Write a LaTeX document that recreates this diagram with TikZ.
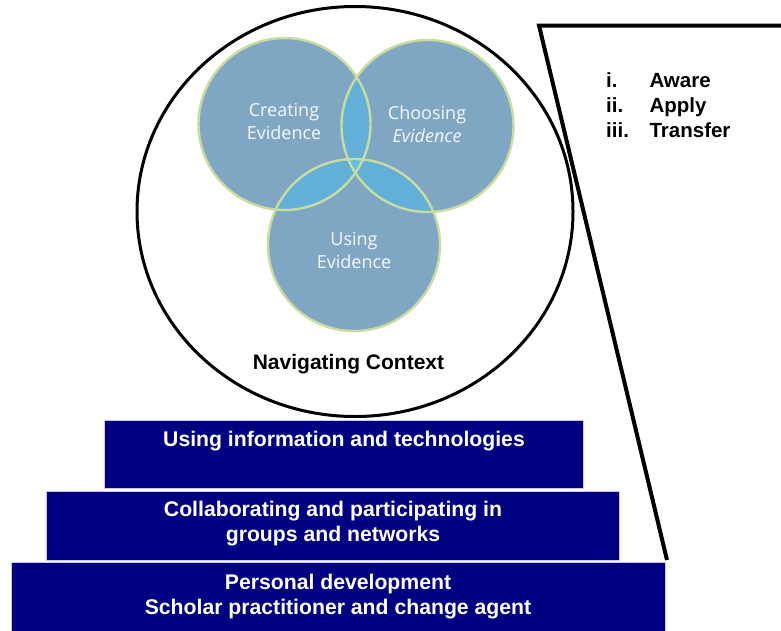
\documentclass[tikz,border=0pt]{standalone}
\usepackage{fontspec}
\setmainfont{Liberation Sans}
\newfontfamily\evidencefont{Open Sans}
\usetikzlibrary{calc}
\newcommand{\figunit}{1pt}
\definecolor{venn}{HTML}{7FA7C4}
\definecolor{vennmix}{HTML}{62B0D7}
\definecolor{venncore}{HTML}{5CBFE3}
\definecolor{vennedge}{HTML}{C8DC9E}
\definecolor{stepnavy}{HTML}{000080}
\definecolor{stepedge}{HTML}{C8C8F0}
\newcommand{\makeoverlap}[3]{
	\begin{scope}
	\clip (#1) circle (86);
	\fill[#3] (#2) circle (86);
	\end{scope}
}

\begin{document}
\begin{tikzpicture}[x=\figunit,y=-\figunit,
	stepbox/.style={draw=stepedge, line width=0.8pt, fill=stepnavy, inner sep=0pt},
	steptext/.style={text=white, font=\bfseries\fontsize{21.2}{25}\selectfont, align=center, anchor=base},
	evidence/.style={text=white!92!venn, font=\evidencefont\fontsize{18}{23}\selectfont, align=center, anchor=base}]
	\useasboundingbox (0,0) rectangle (781,630);
	\coordinate (Create) at (284.5,124);
	\coordinate (Choose) at (427.5,126);
	\coordinate (Use) at (354,245);
	\coordinate (Context) at (355,211.5);
	\coordinate (CornerEnd) at (795,25.5);
	\coordinate (CornerTop) at (539,25.5);
	\coordinate (CornerFoot) at (667,560);

	\fill[venn] (Create) circle (86) (Choose) circle (86) (Use) circle (86);
	\makeoverlap{Create}{Choose}{vennmix}
	\makeoverlap{Create}{Use}{vennmix}
	\makeoverlap{Choose}{Use}{vennmix}
	\begin{scope}
	\clip (Create) circle (86);
	\clip (Choose) circle (86);
	\fill[venncore] (Use) circle (86);
	\end{scope}
	\draw[vennedge, line width=2.4pt] (Create) circle (86) (Choose) circle (86) (Use) circle (86);

	\node[evidence] (createtext) at (284,139) {Creating\\Evidence};
	\node[evidence] (choosetext) at (427,142) {Choosing\\\itshape Evidence};
	\node[evidence] (usetext) at (354,268) {Using\\Evidence};

	\draw[line width=3pt] (Context) ellipse [x radius=218, y radius=205];
	\node[font=\bfseries\fontsize{21}{25}\selectfont, anchor=base] (contexttext) at (348.5,369.3) {Navigating Context};

	\node[stepbox, minimum width=479.5pt, minimum height=68.5pt] (infobox) at (343.75,454.25) {};
	\node[stepbox, minimum width=573pt, minimum height=69.5pt] (groupbox) at (332.5,525.75) {};
	\node[stepbox, minimum width=654pt, minimum height=70pt] (personbox) at (338,597) {};
	\node[steptext] (infotext) at (344,446.7) {Using information and technologies};
	\node[steptext] (grouptext) at (333,541.7) {Collaborating and participating in\\groups and networks};
	\node[steptext] (persontext) at (338,614) {Personal development\\Scholar practitioner and change agent};

	\draw[line width=4pt] (CornerEnd) -- (CornerTop) -- (CornerFoot);
	\node[font=\bfseries\fontsize{20.5}{25.2}\selectfont, align=left, anchor=base west] (levels) at (602.7,137.7)
		{\makebox[43.3pt][l]{i.}Aware\\\makebox[43.3pt][l]{ii.}Apply\\\makebox[43.3pt][l]{iii.}Transfer};
\end{tikzpicture}
\end{document}
